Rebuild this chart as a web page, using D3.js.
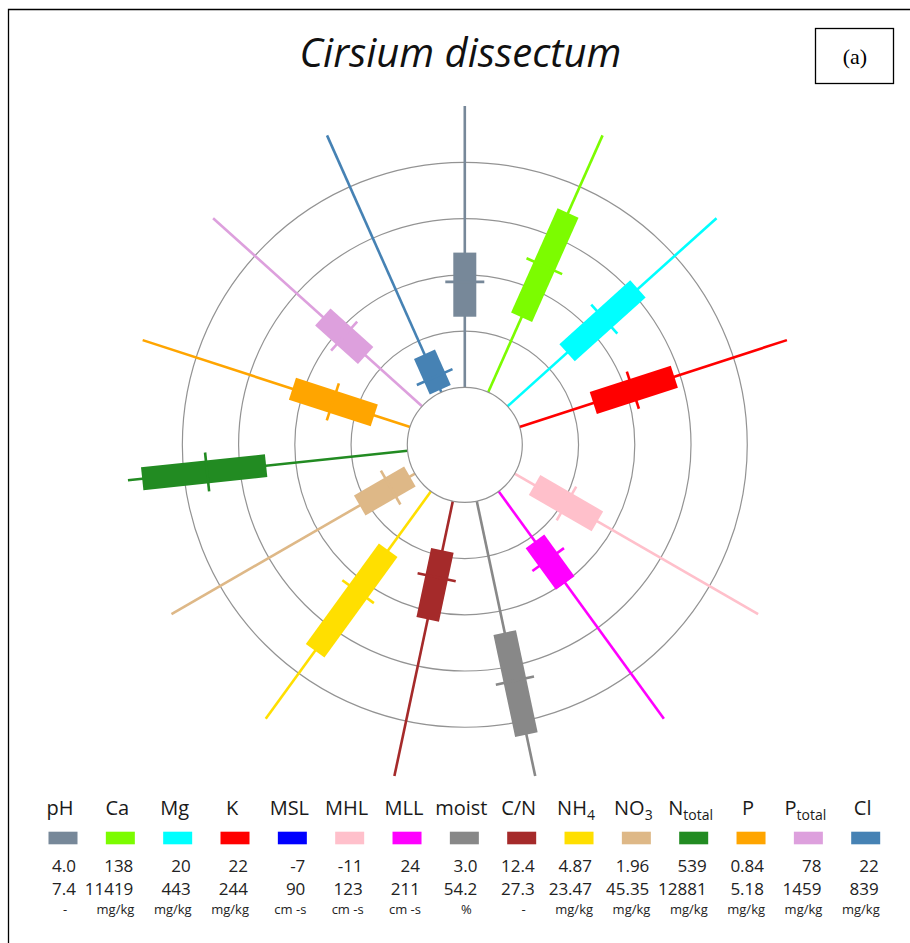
<!DOCTYPE html>
<html>
<head>
<meta charset="utf-8">
<script src="https://cdn.jsdelivr.net/npm/d3@7"></script>
<style>
  body { margin: 0; background: #fff; }
</style>
</head>
<body>
<div id="chart"></div>
<script>
// variables round the clock, starting at the top and going clockwise
const variables = ['pH', 'Ca', 'Mg', 'K', 'MSL', 'MHL', 'MLL', 'moist', 'C/N', 'NH4', 'NO3', 'Ntotal', 'P', 'Ptotal', 'Cl'];
const colours = ['#778899', '#7cfc00', '#00ffff', '#ff0000', '#0000ff', '#ffc0cb', '#ff00ff', '#888888',
                 '#a52a2a', '#ffdf00', '#deb887', '#228b22', '#ffa500', '#dda0dd', '#4682b4'];

// box positions, as a fraction of the range min..max (MSL has no data)
const q1     = [0.251, 0.292, 0.285, 0.276, null, 0.082, 0.220, 0.478, 0.179, 0.259, 0.021, 0.506, 0.134, 0.270, 0.010];
const median = [0.375, 0.491, 0.463, 0.424, null, 0.213, 0.300, 0.653, 0.277, 0.441, 0.100, 0.717, 0.289, 0.373, 0.059];
const q3     = [0.479, 0.698, 0.624, 0.579, null, 0.340, 0.403, 0.849, 0.430, 0.701, 0.227, 0.949, 0.440, 0.475, 0.148];

// legend table
const minVals = ['4.0', '138', '20', '22', '-7', '-11', '24', '3.0', '12.4', '4.87', '1.96', '539', '0.84', '78', '22'];
const maxVals = ['7.4', '11419', '443', '244', '90', '123', '211', '54.2', '27.3', '23.47', '45.35', '12881', '5.18', '1459', '839'];
const units = ['-', 'mg/kg', 'mg/kg', 'mg/kg', 'cm -s', 'cm -s', 'cm -s', '%', '-', 'mg/kg', 'mg/kg', 'mg/kg', 'mg/kg', 'mg/kg', 'mg/kg'];
const ringTicks = [0.2, 0.4, 0.6, 0.8];

const width = 910, height = 943;
const cx = 464.8, cy = 444.8;

const svg = d3.select('#chart')
  .append('svg')
  .attr('width', width)
  .attr('height', height)
  .style('font-family', '"Open Sans", sans-serif');

// frame (only top and left are in the picture)
svg.append('path')
  .attr('d', `M8.5,${height} V9.5 H${width}`)
  .attr('fill', 'none')
  .attr('stroke', '#000')
  .attr('stroke-width', 1.3);

svg.append('text')
  .attr('x', 460.5)
  .attr('y', 67)
  .attr('text-anchor', 'middle')
  .style('font-style', 'italic')
  .style('font-size', '40px')
  .attr('fill', '#111')
  .text('Cirsium dissectum');

svg.append('rect')
  .attr('x', 815.5).attr('y', 28.5)
  .attr('width', 78).attr('height', 55)
  .attr('fill', 'none')
  .attr('stroke', '#000')
  .attr('stroke-width', 1.3);
svg.append('text')
  .attr('x', 855).attr('y', 64)
  .attr('text-anchor', 'middle')
  .style('font-family', '"Liberation Serif", serif')
  .style('font-size', '22px')
  .text('(a)');

// scales
const r = d3.scaleLinear().domain([0, 1]).range([57.5, 338.7]);
const angle = d3.scaleLinear().domain([0, variables.length]).range([0, 360]);

const plot = svg.append('g').attr('transform', `translate(${cx},${cy})`);

plot.selectAll('.ring')
  .data(ringTicks)
  .enter()
  .append('circle')
  .attr('class', 'ring')
  .attr('r', d => r(d))
  .attr('fill', 'none')
  .attr('stroke', '#939393')
  .attr('stroke-width', 1.2);

const rows = variables.map((v, i) => ({ name: v, i: i, colour: colours[i], q1: q1[i], med: median[i], q3: q3[i] }))
  .filter(d => d.q1 !== null);

const spokes = plot.selectAll('.spoke')
  .data(rows)
  .enter()
  .append('g')
  .attr('class', 'spoke')
  .attr('transform', d => `rotate(${angle(d.i)})`);

spokes.append('line')
  .attr('x1', 0).attr('x2', 0)
  .attr('y1', -r(0)).attr('y2', -r(1))
  .attr('stroke', d => d.colour)
  .attr('stroke-width', 2.6);

spokes.append('rect')
  .attr('x', -11.5)
  .attr('width', 23)
  .attr('y', d => -r(d.q3))
  .attr('height', d => r(d.q3) - r(d.q1))
  .attr('fill', d => d.colour);

spokes.append('line')
  .attr('x1', -19.5).attr('x2', 19.5)
  .attr('y1', d => -r(d.med)).attr('y2', d => -r(d.med))
  .attr('stroke', d => d.colour)
  .attr('stroke-width', 2.6);

plot.append('circle')
  .attr('r', r(0))
  .attr('fill', '#fff')
  .attr('stroke', '#939393')
  .attr('stroke-width', 1.2);

// legend
const col = d3.scalePoint().domain(variables).range([63, 865.7]);
const legend = svg.selectAll('.legend')
  .data(variables)
  .enter()
  .append('g')
  .attr('class', 'legend')
  .attr('transform', d => `translate(${col(d)},0)`);

const label = legend.append('text')
  .attr('x', -3)
  .attr('y', 815)
  .attr('text-anchor', 'middle')
  .style('font-size', '20px')
  .attr('fill', '#1a1a1a');
label.each(function (d) {
  const t = d3.select(this);
  const m = d.match(/^(N|P|NH|NO)(4|3|total)$/);
  if (m) {
    t.append('tspan').text(m[1]);
    t.append('tspan').attr('dy', 5).style('font-size', '14px').text(m[2]);
  } else {
    t.text(d);
  }
});

legend.append('rect')
  .attr('x', -14.5)
  .attr('y', 831.7)
  .attr('width', 29)
  .attr('height', 12.6)
  .attr('fill', (d, i) => colours[i]);

legend.append('text')
  .attr('x', 13)
  .attr('y', 872)
  .attr('text-anchor', 'end')
  .style('font-size', '17px')
  .attr('fill', '#222')
  .text((d, i) => minVals[i]);

legend.append('text')
  .attr('x', 13)
  .attr('y', 894.5)
  .attr('text-anchor', 'end')
  .style('font-size', '17px')
  .attr('fill', '#222')
  .text((d, i) => maxVals[i]);

legend.append('text')
  .attr('x', (d, i) => units[i].length > 1 ? 14 : 2)
  .attr('y', 913.5)
  .attr('text-anchor', (d, i) => units[i].length > 1 ? 'end' : 'middle')
  .style('font-size', '13px')
  .attr('fill', '#222')
  .text((d, i) => units[i]);
</script>
</body>
</html>
